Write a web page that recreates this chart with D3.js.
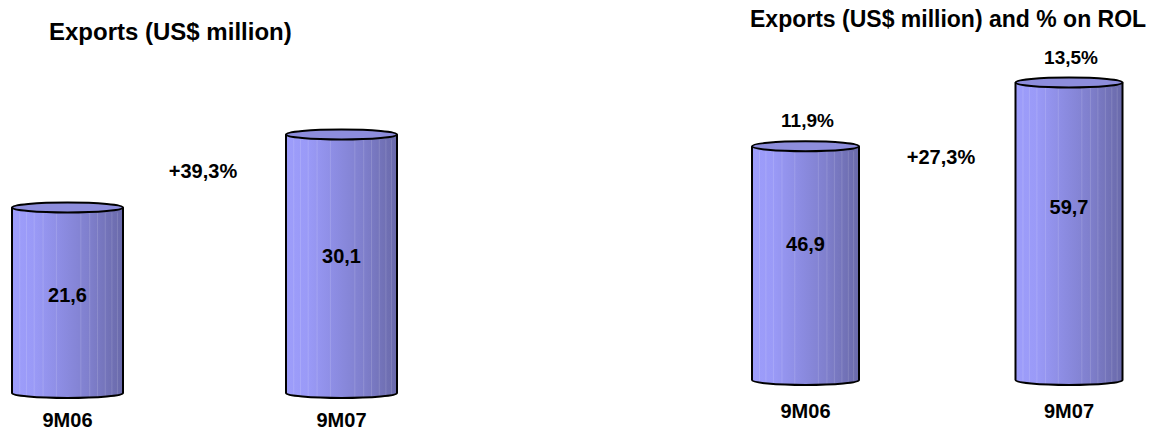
<!DOCTYPE html>
<html>
<head>
<meta charset="utf-8">
<script src="https://cdn.jsdelivr.net/npm/d3@7"></script>
<style>
  html, body { margin: 0; padding: 0; background: #fff; }
  svg { display: block; }
  text { font-family: "Liberation Sans", Arial, Helvetica, sans-serif; font-weight: bold; fill: #000; }
</style>
</head>
<body>
<svg id="chart" width="1154" height="432"></svg>
<script>
// Period categories shared by both panels
const periods = ["9M06", "9M07"];

// Left panel: exports, US$ million
const exportsLeft = [21.6, 30.1];
const growthLeft = "+39,3%";

// Right panel: exports, US$ million, and share on ROL
const exportsRight = [46.9, 59.7];
const shareRight = ["11,9%", "13,5%"];
const growthRight = "+27,3%";

const titles = ["Exports (US$ million)", "Exports (US$ million) and % on ROL"];

const fmt = v => d3.format(".1f")(v).replace(".", ",");

const svg = d3.select("#chart");
const defs = svg.append("defs");

// Horizontal shading across each cylinder body
const grad = defs.append("linearGradient")
  .attr("id", "cylBody").attr("x1", "0%").attr("x2", "100%").attr("y1", "0%").attr("y2", "0%");
[[0, "#9d9dfb"], [0.2, "#9a9af7"], [0.45, "#8c8ce2"], [0.7, "#7f7fcc"], [0.9, "#7070b4"], [1, "#6a6aab"]]
  .forEach(([o, c]) => grad.append("stop").attr("offset", o).attr("stop-color", c));

const streaks = [0.07, 0.13, 0.2, 0.28, 0.4, 0.62, 0.7, 0.77, 0.84, 0.9, 0.95];

function drawPanel(cfg) {
  const g = svg.append("g");
  const x = d3.scalePoint().domain(periods).range(cfg.xRange);
  const y = d3.scaleLinear().domain([0, cfg.maxValue]).range([cfg.base, cfg.topAtMax]);
  const w = cfg.barWidth, ry = 5;

  periods.forEach((p, i) => {
    const v = cfg.values[i];
    const cx = x(p), x0 = cx - w / 2, x1 = cx + w / 2;
    const yt = y(v), yb = y(0);
    const bar = g.append("g");

    // body with rounded bottom
    const body = `M${x0},${yt} L${x0},${yb} A${w / 2},${ry} 0 0 0 ${x1},${yb} L${x1},${yt} Z`;
    bar.append("path").attr("d", body).attr("fill", "url(#cylBody)");
    streaks.forEach(f => {
      bar.append("line")
        .attr("x1", x0 + f * w).attr("x2", x0 + f * w)
        .attr("y1", yt + ry).attr("y2", yb + ry * 0.8)
        .attr("stroke", "#ffffff").attr("stroke-opacity", 0.14).attr("stroke-width", 1);
    });
    bar.append("path")
      .attr("d", `M${x0},${yt} L${x0},${yb} A${w / 2},${ry} 0 0 0 ${x1},${yb} L${x1},${yt}`)
      .attr("fill", "none").attr("stroke", "#000").attr("stroke-width", 2);
    // top cap
    bar.append("ellipse")
      .attr("cx", cx).attr("cy", yt).attr("rx", w / 2).attr("ry", ry)
      .attr("fill", "#8d8ddc").attr("stroke", "#000").attr("stroke-width", 2);

    // value label inside the cylinder
    g.append("text")
      .attr("x", cx).attr("y", y(v * cfg.labelFrac) + 7)
      .attr("text-anchor", "middle").attr("font-size", 20)
      .text(fmt(v));

    // category label
    g.append("text")
      .attr("x", cx).attr("y", cfg.catY)
      .attr("text-anchor", "middle").attr("font-size", 20)
      .text(p);

    if (cfg.shares) {
      g.append("text")
        .attr("x", cx + 2).attr("y", yt - 19)
        .attr("text-anchor", "middle").attr("font-size", 19)
        .text(cfg.shares[i]);
    }
  });

  g.append("text")
    .attr("x", cfg.growthPos[0]).attr("y", cfg.growthPos[1])
    .attr("text-anchor", "middle").attr("font-size", 20)
    .text(cfg.growth);

  g.append("text")
    .attr("x", cfg.titlePos[0]).attr("y", cfg.titlePos[1])
    .attr("font-size", cfg.titleSize)
    .text(cfg.title);
}

drawPanel({
  values: exportsLeft, maxValue: exportsLeft[1],
  xRange: [67.5, 341.5], barWidth: 111,
  base: 393, topAtMax: 134.5,
  labelFrac: 0.53, catY: 427,
  growth: growthLeft, growthPos: [203, 178],
  title: titles[0], titlePos: [49, 40], titleSize: 24
});

drawPanel({
  values: exportsRight, maxValue: exportsRight[1],
  xRange: [805.5, 1069], barWidth: 107,
  base: 380, topAtMax: 82.5,
  labelFrac: 0.58, catY: 418,
  shares: shareRight,
  growth: growthRight, growthPos: [941, 164],
  title: titles[1], titlePos: [750, 27], titleSize: 23
});
</script>
</body>
</html>
